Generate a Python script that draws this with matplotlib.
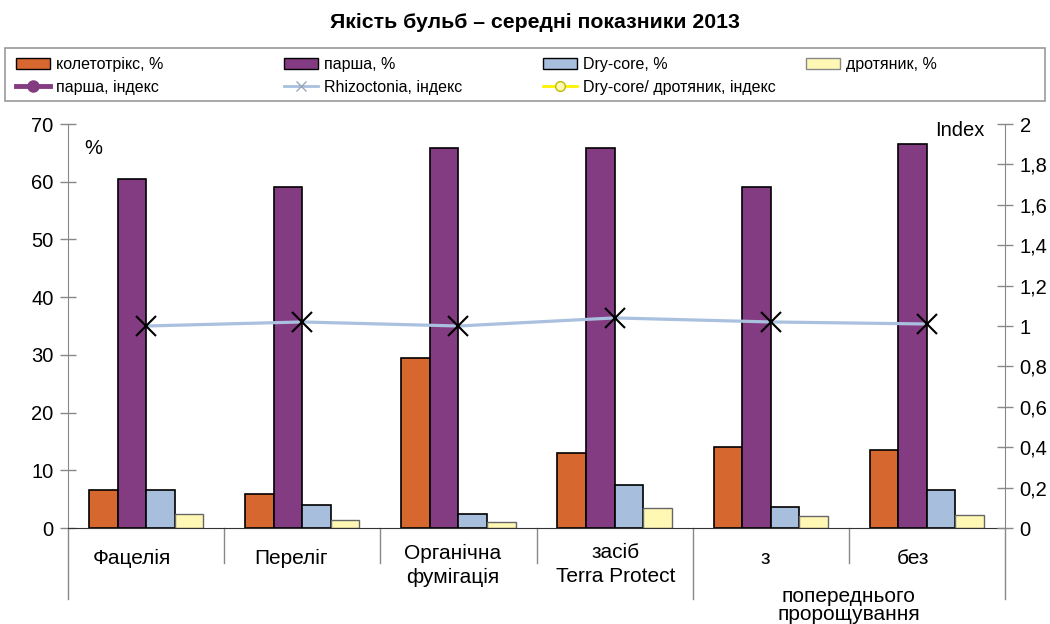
import matplotlib.pyplot as plt
import numpy as np
from matplotlib.patches import Patch, Rectangle
from matplotlib.lines import Line2D

plt.rcParams['font.family'] = ['Liberation Sans', 'DejaVu Sans']

categories = ['Фацелія', 'Переліг', 'Органічна\nфумігація',
              'засіб\nTerra Protect', 'з', 'без']
group_label = 'попереднього\nпророщування'

kolet = [6.5, 5.9, 29.5, 13.0, 14.0, 13.5]
parsha = [60.5, 59.0, 65.9, 65.9, 59.1, 66.5]
drycore = [6.5, 4.0, 2.5, 7.45, 3.7, 6.5]
drotyanyk = [2.4, 1.4, 1.0, 3.5, 2.0, 2.2]
rhizo_idx = [1.0, 1.02, 1.0, 1.04, 1.02, 1.01]

c_orange = '#D6682F'
c_purple = '#833C82'
c_blue = '#A7BEDC'
c_yellow = '#FFF8B4'
c_line = '#A9C0DE'

W, H = 1050, 624
fig = plt.figure(figsize=(W / 100, H / 100), dpi=100)
ax = fig.add_axes([68 / W, 1 - 528 / H, 937 / W, 404 / H])
ax2 = ax.twinx()

x = np.arange(len(categories))
w = 0.183
ax.bar(x - 1.5*w, kolet, w, color=c_orange, edgecolor='black', lw=1.2, zorder=2)
ax.bar(x - 0.5*w, parsha, w, color=c_purple, edgecolor='black', lw=1.2, zorder=2)
ax.bar(x + 0.5*w, drycore, w, color=c_blue, edgecolor='black', lw=1.2, zorder=2)
ax.bar(x + 1.5*w, drotyanyk, w, color=c_yellow, edgecolor='#666666', lw=1.0, zorder=2)

ax2.plot(x, rhizo_idx, color=c_line, lw=2.3, zorder=3)
ax2.plot(x, rhizo_idx, ls='none', marker='x', ms=15, mew=1.5, color='black', zorder=4)

ax.set_xlim(-0.5, len(categories) - 0.5)
ax.set_ylim(0, 70)
ax.set_yticks(range(0, 71, 10))
ax2.set_ylim(0, 2)
ax2.set_yticks(np.arange(0, 2.01, 0.2))
ax2.set_yticklabels(['0', '0,2', '0,4', '0,6', '0,8', '1', '1,2', '1,4', '1,6', '1,8', '2'])

for a in (ax, ax2):
    a.spines['top'].set_visible(False)
    a.tick_params(axis='y', direction='inout', length=11, width=1, color='#888888',
                  labelsize=14.5, pad=5)
ax.spines['left'].set_color('#888888')
ax.spines['right'].set_visible(False)
ax2.spines['left'].set_visible(False)
ax2.spines['right'].set_color('#888888')
ax2.spines['bottom'].set_visible(False)
ax.spines['bottom'].set_color('#333333')
ax.set_xticks([])

# category separators and labels below the axis
tr = ax.get_xaxis_transform()
def py(p):
    # pixel row -> axes fraction
    return (528 - p) / 404

for s in range(len(categories) + 1):
    yb = py(599) if s in (0, 4, 6) else py(563)
    ax.plot([s - 0.5, s - 0.5], [0, yb], color='#888888', lw=1, transform=tr, clip_on=False)

label_shift = [-14, -11, -6, 1, -5, -14]   # px, as in the original layout
for i, lab in enumerate(categories):
    lines = lab.split('\n')
    ys = [558] if len(lines) == 1 else [553, 577]
    for ln, yy in zip(lines, ys):
        ax.text(x[i] + label_shift[i] / 156, py(yy), ln, transform=tr,
                ha='center', va='center', fontsize=15)
for ln, yy in zip(group_label.split('\n'), [596, 614]):
    ax.text(4.5, py(yy), ln, transform=tr, ha='center', va='center', fontsize=15)

ax.text(0.017, 0.94, '%', transform=ax.transAxes, fontsize=14.5, va='center')
ax.text(0.978, 0.985, 'Index', transform=ax.transAxes, fontsize=14.5, va='center', ha='right')

fig.text(535 / W, 1 - 23 / H, 'Якість бульб – середні показники 2013', fontsize=15.3,
         fontweight='bold', ha='center', va='center')

# legend: four columns placed like the original, one frame around them
h_kolet = Patch(facecolor=c_orange, edgecolor='black', label='колетотрікс, %')
h_parsha = Patch(facecolor=c_purple, edgecolor='black', label='парша, %')
h_dry = Patch(facecolor=c_blue, edgecolor='black', label='Dry-core, %')
h_drot = Patch(facecolor=c_yellow, edgecolor='#888888', label='дротяник, %')
h_pidx = Line2D([], [], color=c_purple, lw=3.5, marker='o', ms=8, label='парша, індекс')
h_ridx = Line2D([], [], color=c_line, lw=2, marker='x', ms=7, mec='#9aa8b8',
                label='Rhizoctonia, індекс')
h_didx = Line2D([], [], color='#FFF200', lw=2, marker='o', ms=7, mfc='#FFF8B4', mec='#BDBD00',
                label='Dry-core/ дротяник, індекс')
columns = [[h_kolet, h_pidx], [h_parsha, h_ridx], [h_dry, h_didx], [h_drot]]
col_x = [16, 284, 543, 806]
for hs, cx in zip(columns, col_x):
    fig.legend(handles=hs, loc='upper left', bbox_to_anchor=(cx / W, 1 - 57 / H),
               fontsize=11.5, frameon=False, borderaxespad=0, borderpad=0,
               handlelength=2.1, handletextpad=0.4, labelspacing=0.5)
fig.add_artist(Rectangle((5 / W, 1 - 101 / H), 1040 / W, 53 / H, transform=fig.transFigure,
                         fill=False, edgecolor='#999999', lw=1.2))

plt.savefig('out.png', dpi=100)
